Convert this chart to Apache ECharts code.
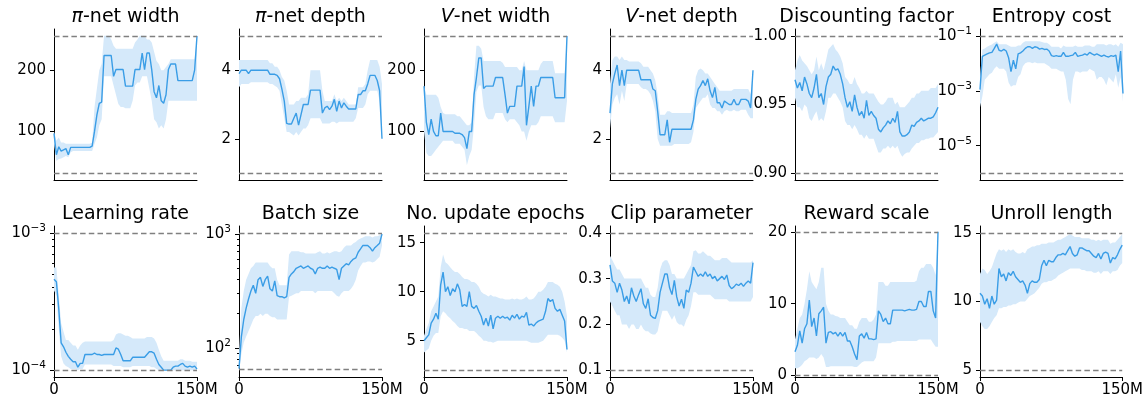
<!DOCTYPE html>
<html>
<head>
<meta charset="utf-8">
<script src="https://cdn.jsdelivr.net/npm/echarts@6/dist/echarts.min.js"></script>
<style>
  html, body { margin: 0; padding: 0; background: #fff; }
  #main { width: 1146px; height: 398px; }
</style>
</head>
<body>
<div id="main"></div>
<script>
// training steps, in millions
var steps = [0,2.5,5,7.5,10,12.5,15,17.5,20,22.5,25,27.5,30,32.5,35,37.5,40,42.5,45,47.5,
  50,52.5,55,57.5,60,62.5,65,67.5,70,72.5,75,77.5,80,82.5,85,87.5,90,92.5,95,97.5,
  100,102.5,105,107.5,110,112.5,115,117.5,120,122.5,125,127.5,130,132.5,135,137.5,140,142.5,145,147.5,150];
var xTicks = ['0', '150'];
var xTickLabels = ['0', '150M'];

// pi-net width
var piWidthBounds = [32, 256];
var piWidthTicks = [100, 200];
var piWidthMid = [97,62,75,68,70,72,62,74,74,74,
  74,74,74,74,74,74,76,100,127,146,
  148,224,224,224,224,190,201,201,201,201,
  174,174,174,174,201,201,201,228,201,228,
  228,201,165,155,175,150,146,160,201,210,
  210,210,183,183,183,183,183,183,183,200,
  256];
var piWidthLo = [80,52,55,56,58,60,58,66,68,68,
  68,68,68,68,68,68,68,80,90,110,
  120,190,190,190,190,175,160,145,140,140,
  138,138,138,150,175,180,180,190,190,190,
  170,150,120,115,105,110,105,120,150,150,
  150,150,150,150,150,150,150,150,150,150,
  150];
var piWidthHi = [100,85,90,82,82,80,80,80,80,80,
  80,80,80,80,80,80,82,140,170,200,
  210,256,256,256,250,240,235,235,235,235,
  235,235,235,235,245,250,256,256,256,250,
  250,245,230,215,210,200,200,205,210,218,
  218,218,218,218,218,218,218,218,218,218,
  256];

// pi-net depth
var piDepthBounds = [1, 5];
var piDepthTicks = [2, 4];
var piDepthMid = [3.9,4.0,4.0,4.0,3.9,4.0,4.0,4.0,4.0,4.0,
  4.0,4.0,4.0,3.88,3.88,3.88,3.85,3.75,3.45,3.1,
  2.45,2.43,2.43,2.6,2.75,2.4,2.7,3.0,3.0,3.0,
  3.42,3.42,3.42,3.42,3.42,2.75,2.9,2.95,2.85,2.95,
  3.15,2.8,3.1,2.9,3.05,2.95,2.87,2.87,2.87,2.87,
  3.29,3.29,3.4,3.4,3.6,3.85,3.85,3.85,3.7,3.4,
  2.0];
var piDepthLo = [3.5,3.6,3.6,3.6,3.6,3.65,3.65,3.65,3.65,3.65,
  3.65,3.65,3.65,3.6,3.6,3.55,3.5,3.4,3.0,2.6,
  2.2,2.2,2.15,2.1,2.2,2.1,2.2,2.3,2.3,2.4,
  2.6,2.6,2.6,2.6,2.6,2.45,2.45,2.45,2.45,2.5,
  2.5,2.45,2.5,2.5,2.5,2.5,2.5,2.5,2.5,2.6,
  2.9,2.9,2.9,3.0,3.3,3.4,3.4,3.4,3.4,3.1,
  2.0];
var piDepthHi = [4.3,4.3,4.3,4.3,4.3,4.3,4.3,4.3,4.3,4.3,
  4.3,4.3,4.3,4.2,4.2,4.1,4.1,4.0,3.8,3.7,
  3.4,3.0,3.0,3.0,3.1,3.1,3.2,3.2,3.2,3.3,
  4.0,4.0,4.0,4.0,4.0,3.4,3.1,3.1,3.1,3.1,
  3.3,3.1,3.2,3.1,3.2,3.1,3.0,3.0,3.0,3.0,
  3.5,3.5,3.5,3.6,4.0,4.3,4.3,4.3,4.3,4.1,
  3.6];

// V-net width
var vWidthBounds = [32, 256];
var vWidthTicks = [100, 200];
var vWidthMid = [174,115,95,120,100,93,93,130,100,100,
  100,100,100,97,97,97,95,90,72,100,
  100,160,188,220,220,170,174,174,174,174,
  188,188,188,188,160,130,141,141,141,174,
  174,174,206,110,141,174,141,174,174,188,
  188,188,188,188,188,155,155,155,155,155,
  256];
var vWidthLo = [100,65,60,60,65,70,75,80,85,85,
  85,85,85,80,80,80,75,70,45,60,
  70,110,165,175,175,140,125,120,120,120,
  130,130,130,130,120,115,120,120,120,115,
  110,100,100,85,100,110,110,110,115,125,
  125,125,125,125,125,115,115,115,115,115,
  150];
var vWidthHi = [175,160,160,160,160,160,155,140,130,128,
  128,128,128,128,125,125,120,115,110,110,
  115,190,240,240,235,215,215,215,215,215,
  215,215,215,212,205,205,205,205,205,205,
  200,200,215,200,200,200,200,200,200,210,
  215,215,215,215,215,195,195,195,195,195,
  256];

// V-net depth
var vDepthBounds = [1, 5];
var vDepthTicks = [2, 4];
var vDepthMid = [2.75,3.6,3.9,4.15,3.55,4.0,3.55,4.0,4.0,4.0,
  4.0,4.0,4.0,3.72,3.72,3.72,3.72,3.72,3.45,3.4,
  2.8,2.12,2.12,2.12,2.55,1.9,2.28,2.28,2.28,2.28,
  2.28,2.28,2.28,2.28,2.28,2.55,3.15,3.45,3.55,3.7,
  3.55,3.75,3.4,3.2,3.5,3.05,3.05,2.9,3.1,3.05,
  3.0,3.0,3.15,3.0,3.0,3.15,3.15,3.15,3.1,2.9,
  4.0];
var vDepthLo = [2.3,3.0,3.2,3.3,3.0,3.4,3.1,3.6,3.6,3.6,
  3.6,3.6,3.6,3.5,3.45,3.45,3.4,3.3,3.1,2.8,
  2.0,1.8,1.8,1.8,1.8,1.8,1.8,1.85,1.85,1.85,
  1.85,1.85,1.85,1.85,1.9,2.2,2.9,3.0,3.1,3.2,
  3.2,3.3,3.0,2.9,2.9,2.8,2.8,2.7,2.8,2.85,
  2.8,2.8,2.85,2.8,2.8,2.85,2.85,2.85,2.7,2.6,
  2.6];
var vDepthHi = [3.6,4.3,4.4,4.4,4.3,4.4,4.3,4.3,4.25,4.25,
  4.25,4.25,4.25,4.2,4.1,4.1,4.1,4.0,3.9,3.7,
  3.3,2.7,2.7,2.7,2.8,2.8,2.75,2.75,2.75,2.75,
  2.75,2.75,2.75,2.75,2.75,3.0,3.8,4.0,4.05,4.0,
  3.9,3.9,3.8,3.7,3.6,3.5,3.4,3.4,3.4,3.4,
  3.4,3.4,3.45,3.45,3.45,3.45,3.45,3.45,3.45,3.3,
  4.0];

// discounting factor
var discountBounds = [0.9, 1.0];
var discountTicks = [0.90, 0.95, 1.00];
var discountMid = [0.968,0.962,0.966,0.96,0.97,0.965,0.958,0.955,0.962,0.972,
  0.955,0.958,0.95,0.963,0.97,0.972,0.978,0.975,0.976,0.972,
  0.965,0.955,0.948,0.952,0.945,0.957,0.948,0.942,0.945,0.94,
  0.953,0.942,0.945,0.942,0.94,0.932,0.93,0.933,0.935,0.938,
  0.936,0.94,0.937,0.945,0.93,0.927,0.927,0.928,0.93,0.935,
  0.934,0.937,0.938,0.94,0.938,0.939,0.94,0.94,0.941,0.944,
  0.948];
var discountLo = [0.955,0.948,0.948,0.945,0.95,0.948,0.94,0.938,0.942,0.945,
  0.938,0.94,0.938,0.945,0.955,0.955,0.958,0.958,0.955,0.952,
  0.948,0.938,0.935,0.935,0.932,0.935,0.932,0.928,0.928,0.925,
  0.928,0.925,0.925,0.925,0.92,0.915,0.915,0.918,0.918,0.92,
  0.918,0.92,0.918,0.92,0.915,0.912,0.914,0.915,0.915,0.918,
  0.92,0.922,0.922,0.924,0.924,0.925,0.925,0.926,0.926,0.928,
  0.93];
var discountHi = [0.975,0.982,0.986,0.982,0.98,0.978,0.975,0.972,0.975,0.985,
  0.975,0.98,0.975,0.982,0.99,0.992,0.994,0.99,0.988,0.985,
  0.98,0.97,0.968,0.965,0.965,0.97,0.965,0.962,0.958,0.958,
  0.96,0.958,0.958,0.958,0.955,0.952,0.95,0.95,0.952,0.955,
  0.955,0.955,0.95,0.952,0.948,0.948,0.948,0.95,0.952,0.955,
  0.955,0.958,0.958,0.96,0.96,0.96,0.96,0.962,0.962,0.962,
  0.965];

// entropy cost (log axis)
var entropyBounds = [1e-6, 1e-1];
var entropyTicks = [1e-5, 1e-3, 1e-1];
var entropyMid = [1.1e-3,1.8e-2,2.0e-2,2.2e-2,2.4e-2,2.5e-2,3.5e-2,5.0e-2,3.0e-2,2.8e-2,
  3.2e-2,2.8e-2,1.6e-2,5.0e-3,1.3e-2,6.3e-3,2.2e-2,2.4e-2,2.8e-2,3.5e-2,
  4.0e-2,4.0e-2,3.5e-2,4.0e-2,3.8e-2,3.3e-2,3.5e-2,3.2e-2,3.3e-2,2.8e-2,
  1.9e-2,1.8e-2,1.9e-2,1.8e-2,1.8e-2,2.5e-2,1.8e-2,1.8e-2,1.9e-2,2.0e-2,
  2.5e-2,1.8e-2,1.9e-2,2.0e-2,2.2e-2,2.0e-2,2.5e-2,2.2e-2,2.0e-2,2.2e-2,
  2.0e-2,1.8e-2,2.0e-2,1.8e-2,1.7e-2,1.9e-2,1.8e-2,2.0e-2,5.0e-3,2.8e-2,
  8.0e-4];
var entropyLo = [2.5e-4,6.3e-4,2.5e-3,3.2e-3,4.0e-3,4.5e-3,6.3e-3,7.9e-3,6.3e-3,6.3e-3,
  6.3e-3,5.0e-3,2.0e-3,1.4e-3,1.6e-3,1.6e-3,3.2e-3,4.0e-3,7.9e-3,1.0e-2,
  1.1e-2,1.1e-2,1.0e-2,1.1e-2,1.0e-2,1.0e-2,1.0e-2,1.0e-2,8.9e-3,7.9e-3,
  6.3e-3,6.3e-3,6.3e-3,5.6e-3,5.0e-3,5.0e-3,2.5e-3,5.0e-4,3.2e-4,2.5e-3,
  5.0e-3,5.0e-3,4.5e-3,5.0e-3,5.0e-3,5.0e-3,6.3e-3,5.6e-3,5.0e-3,2.5e-3,
  3.2e-3,3.2e-3,2.5e-3,1.6e-3,3.2e-3,2.5e-3,2.0e-3,4.0e-3,1.3e-3,3.2e-3,
  4.0e-4];
var entropyHi = [3.2e-3,3.2e-2,3.5e-2,4.0e-2,4.5e-2,4.8e-2,5.6e-2,6.3e-2,5.0e-2,5.0e-2,
  5.0e-2,5.0e-2,4.5e-2,4.0e-2,4.0e-2,4.0e-2,4.5e-2,4.5e-2,5.6e-2,6.3e-2,
  6.3e-2,6.3e-2,6.3e-2,6.3e-2,6.3e-2,6.3e-2,6.0e-2,5.6e-2,5.6e-2,5.0e-2,
  4.0e-2,4.0e-2,4.0e-2,4.0e-2,3.5e-2,4.5e-2,4.0e-2,4.0e-2,4.0e-2,4.0e-2,
  4.5e-2,4.0e-2,4.0e-2,4.0e-2,4.5e-2,4.5e-2,4.5e-2,4.0e-2,4.0e-2,5.0e-2,
  5.0e-2,5.0e-2,5.0e-2,4.5e-2,5.0e-2,5.0e-2,4.5e-2,5.0e-2,4.0e-2,5.6e-2,
  5.0e-2];

// learning rate (log axis)
var lrBounds = [1e-4, 1e-3];
var lrTicks = [1e-4, 1e-3];
var lrMinorTicks = [2e-4, 3e-4, 4e-4, 5e-4, 6e-4, 7e-4, 8e-4, 9e-4];
var lrMid = [4.6e-4,4.4e-4,2.8e-4,1.58e-4,1.48e-4,1.35e-4,1.26e-4,1.2e-4,1.15e-4,1.15e-4,
  1.05e-4,1.12e-4,1.12e-4,1.3e-4,1.3e-4,1.3e-4,1.3e-4,1.33e-4,1.3e-4,1.3e-4,
  1.28e-4,1.3e-4,1.3e-4,1.3e-4,1.3e-4,1.3e-4,1.45e-4,1.42e-4,1.3e-4,1.17e-4,
  1.17e-4,1.17e-4,1.17e-4,1.24e-4,1.24e-4,1.24e-4,1.24e-4,1.24e-4,1.24e-4,1.3e-4,
  1.36e-4,1.36e-4,1.33e-4,1.2e-4,1.1e-4,1.05e-4,1.0e-4,1.0e-4,1.0e-4,1.0e-4,
  1.05e-4,1.07e-4,1.07e-4,1.1e-4,1.12e-4,1.07e-4,1.05e-4,1.07e-4,1.05e-4,1.07e-4,
  1.02e-4];
var lrLo = [3.8e-4,3.5e-4,2.0e-4,1.26e-4,1.12e-4,1.07e-4,1.05e-4,1.02e-4,1.02e-4,1.02e-4,
  1.0e-4,1.02e-4,1.02e-4,1.1e-4,1.1e-4,1.1e-4,1.1e-4,1.1e-4,1.1e-4,1.1e-4,
  1.1e-4,1.1e-4,1.1e-4,1.1e-4,1.1e-4,1.07e-4,1.07e-4,1.07e-4,1.07e-4,1.05e-4,
  1.05e-4,1.05e-4,1.05e-4,1.07e-4,1.07e-4,1.07e-4,1.07e-4,1.07e-4,1.07e-4,1.07e-4,
  1.07e-4,1.05e-4,1.05e-4,1.02e-4,1.0e-4,1.0e-4,1.0e-4,1.0e-4,1.0e-4,1.0e-4,
  1.0e-4,1.0e-4,1.0e-4,1.0e-4,1.0e-4,1.0e-4,1.0e-4,1.0e-4,1.0e-4,1.0e-4,
  1.0e-4];
var lrHi = [5.6e-4,5.6e-4,3.5e-4,2.2e-4,1.9e-4,1.66e-4,1.66e-4,1.58e-4,1.51e-4,1.51e-4,
  1.41e-4,1.51e-4,1.58e-4,1.62e-4,1.62e-4,1.62e-4,1.62e-4,1.62e-4,1.62e-4,1.62e-4,
  1.62e-4,1.62e-4,1.62e-4,1.62e-4,1.62e-4,1.66e-4,1.82e-4,1.86e-4,1.86e-4,1.82e-4,
  1.78e-4,1.78e-4,1.74e-4,1.7e-4,1.7e-4,1.7e-4,1.7e-4,1.7e-4,1.7e-4,1.74e-4,
  1.74e-4,1.74e-4,1.7e-4,1.58e-4,1.41e-4,1.26e-4,1.17e-4,1.17e-4,1.17e-4,1.17e-4,
  1.17e-4,1.17e-4,1.17e-4,1.2e-4,1.2e-4,1.17e-4,1.17e-4,1.17e-4,1.15e-4,1.15e-4,
  1.15e-4];

// batch size (log axis)
var batchBounds = [64, 1024];
var batchTicks = [100, 1000];
var batchMinorTicks = [70, 80, 90, 200, 300, 400, 500, 600, 700, 800, 900];
var batchMid = [66,126,178,224,269,316,355,302,398,417,
  347,398,427,331,316,389,288,282,282,275,
  282,417,447,468,501,513,525,501,513,525,
  501,490,447,501,513,501,501,525,501,513,
  501,490,398,501,525,550,537,575,603,617,
  692,741,794,794,794,759,708,759,794,832,
  1000];
var batchLo = [63,89,112,126,141,158,178,191,191,200,
  191,200,200,191,186,186,178,178,178,178,
  178,282,288,295,302,302,316,316,316,316,
  316,316,302,316,316,316,316,316,316,316,
  302,288,282,302,316,316,316,331,355,398,
  479,525,562,562,575,575,562,575,603,631,
  794];
var batchHi = [89,224,316,398,447,501,525,562,562,562,
  562,562,562,525,501,501,398,355,355,355,
  355,661,708,708,708,708,692,692,676,676,
  676,676,676,692,708,676,676,692,676,692,
  708,708,692,708,759,794,794,794,832,851,
  891,912,933,955,955,955,933,955,955,977,
  1023];

// no. update epochs
var epochsBounds = [2, 16];
var epochsTicks = [5, 10, 15];
var epochsMid = [5.0,5.3,5.6,6.8,7.2,7.8,7.2,10.7,12.0,10.0,
  10.5,9.6,10.3,10.0,10.8,10.2,8.5,8.7,8.5,10.0,
  8.5,8.3,8.6,8.0,7.5,6.6,7.3,6.5,7.6,6.2,
  7.3,7.5,7.3,7.5,7.3,7.4,7.1,7.6,7.3,7.7,
  7.2,7.5,7.4,7.9,6.6,6.7,6.5,6.8,7.0,7.1,
  7.2,8.0,9.3,9.0,9.2,8.3,8.0,8.2,7.6,7.0,
  4.1];
var epochsLo = [3.8,4.0,4.2,5.0,5.5,5.8,5.8,7.5,8.0,7.8,
  7.5,7.3,7.0,6.8,6.5,6.3,6.3,6.2,6.2,6.0,
  6.0,6.0,5.8,5.5,5.3,5.0,5.0,4.9,4.9,4.8,
  4.9,5.0,5.0,5.0,5.0,5.0,5.0,5.0,5.0,5.0,
  5.0,5.0,5.0,5.0,4.9,4.8,4.8,4.8,4.8,4.9,
  5.0,5.3,5.6,5.6,5.6,5.6,5.6,5.5,5.3,5.0,
  3.8];
var epochsHi = [5.5,6.2,6.8,8.0,8.5,9.0,9.5,12.5,13.8,13.0,
  12.8,12.5,12.2,12.0,12.0,11.8,11.5,11.3,11.3,11.2,
  11.0,11.0,10.8,10.5,10.0,9.8,9.7,9.5,9.7,9.5,
  9.5,9.4,9.3,9.3,9.2,9.2,9.2,9.3,9.2,9.3,
  9.2,9.2,9.3,9.5,9.2,9.2,9.3,9.6,10.0,10.0,
  10.2,10.5,11.0,11.0,11.0,10.8,10.7,10.5,10.0,9.0,
  7.5];

// clip parameter
var clipBounds = [0.1, 0.4];
var clipTicks = [0.1, 0.2, 0.3, 0.4];
var clipMid = [0.33,0.295,0.29,0.27,0.29,0.275,0.25,0.262,0.245,0.28,
  0.262,0.25,0.265,0.278,0.245,0.235,0.256,0.22,0.215,0.213,
  0.23,0.27,0.29,0.31,0.31,0.28,0.265,0.296,0.26,0.24,
  0.255,0.235,0.275,0.27,0.29,0.325,0.315,0.305,0.31,0.305,
  0.315,0.305,0.31,0.3,0.305,0.295,0.3,0.305,0.298,0.308,
  0.285,0.278,0.282,0.288,0.285,0.29,0.283,0.29,0.295,0.29,
  0.335];
var clipLo = [0.25,0.24,0.23,0.22,0.22,0.2,0.2,0.2,0.19,0.2,
  0.2,0.19,0.19,0.2,0.19,0.185,0.185,0.18,0.178,0.178,
  0.185,0.21,0.23,0.23,0.23,0.22,0.21,0.22,0.205,0.2,
  0.2,0.195,0.21,0.22,0.24,0.27,0.27,0.265,0.265,0.265,
  0.265,0.265,0.265,0.26,0.255,0.255,0.255,0.255,0.255,0.255,
  0.25,0.25,0.25,0.25,0.25,0.25,0.25,0.25,0.25,0.25,
  0.26];
var clipHi = [0.35,0.34,0.33,0.32,0.32,0.31,0.3,0.3,0.3,0.3,
  0.3,0.3,0.3,0.3,0.29,0.28,0.28,0.265,0.26,0.26,
  0.28,0.32,0.335,0.34,0.34,0.33,0.31,0.31,0.3,0.3,
  0.3,0.3,0.31,0.32,0.33,0.36,0.362,0.355,0.355,0.36,
  0.355,0.35,0.35,0.345,0.34,0.34,0.34,0.345,0.345,0.345,
  0.34,0.335,0.335,0.335,0.335,0.335,0.335,0.335,0.335,0.335,
  0.34];

// reward scale
var rewardBounds = [0.05, 20];
var rewardTicks = [0, 10, 20];
var rewardMid = [3.3,4.2,6.2,4.5,6.5,7.2,10.5,6.8,8.0,5.5,
  8.6,9.0,9.5,4.5,6.0,6.1,5.8,6.0,5.5,6.0,
  5.5,6.0,4.8,4.8,4.0,3.0,2.2,5.5,5.8,5.2,
  6.0,5.1,5.1,5.0,5.1,9.0,8.5,7.5,8.0,7.2,
  7.2,9.1,9.1,9.1,9.1,9.1,9.0,9.1,9.2,9.1,
  9.1,9.2,10.3,10.3,9.6,9.6,11.7,11.7,9.0,8.0,
  20.0];
var rewardLo = [1.0,1.0,1.2,1.5,2.0,2.2,2.5,2.5,2.5,2.3,
  2.5,3.0,2.5,1.2,1.2,1.3,1.3,1.3,1.3,1.3,
  1.3,1.3,1.3,1.3,1.3,1.2,1.2,1.5,1.8,2.0,
  2.0,2.0,2.0,2.0,2.5,4.5,4.5,4.5,4.5,4.5,
  4.5,4.7,4.7,4.8,4.8,4.8,4.8,4.8,4.8,4.8,
  4.8,4.8,5.0,5.0,5.0,5.0,5.0,5.0,4.5,4.0,
  4.0];
var rewardHi = [5.0,6.5,8.0,8.5,10.0,12.0,14.5,13.0,12.5,12.0,
  13.0,15.0,15.0,10.0,9.0,8.5,8.5,8.3,8.2,8.0,
  8.0,8.0,7.5,7.0,7.0,6.5,6.5,7.5,8.0,8.0,
  8.0,7.5,7.5,7.8,8.5,13.0,13.0,13.0,12.5,12.5,
  13.0,13.0,13.0,13.0,13.0,13.0,13.0,13.0,13.0,13.0,
  13.0,13.2,14.5,15.0,15.0,15.5,15.5,15.5,15.0,14.0,
  20.0];

// unroll length
var unrollBounds = [5, 15];
var unrollTicks = [5, 10, 15];
var unrollMid = [10.6,10.4,9.8,10.2,9.5,10.4,9.8,10.1,12.4,11.8,
  12.0,11.5,12.1,11.9,12.2,11.8,11.6,11.4,11.5,11.2,
  10.6,11.3,11.5,11.4,11.4,11.6,12.6,13.0,12.6,13.0,
  12.9,12.9,13.2,13.4,13.4,13.5,13.4,13.7,14.0,13.5,
  13.3,13.4,13.9,13.9,13.8,13.7,13.7,13.5,13.3,13.2,
  13.5,13.1,13.5,13.6,13.5,12.8,13.2,13.1,13.4,13.8,
  14.1];
var unrollLo = [8.5,8.2,8.0,8.0,8.2,8.5,8.8,9.0,9.5,9.5,
  9.6,9.6,9.7,9.7,9.8,9.8,9.9,10.0,10.0,10.0,
  10.2,10.4,10.5,10.6,10.8,11.0,11.3,11.4,11.4,11.5,
  11.5,11.6,11.7,11.9,12.0,12.1,12.2,12.3,12.4,12.4,
  12.4,12.4,12.4,12.3,12.3,12.2,12.2,12.2,12.1,12.1,
  12.2,12.0,12.2,12.2,12.2,12.0,12.2,12.2,12.3,12.6,
  12.8];
var unrollHi = [12.0,12.4,12.3,12.0,12.2,12.5,13.0,13.5,13.8,13.7,
  13.8,13.6,13.8,13.7,13.8,13.6,13.5,13.5,13.6,13.5,
  13.8,13.9,14.0,14.0,14.1,14.1,14.2,14.2,14.2,14.3,
  14.3,14.3,14.4,14.5,14.5,14.6,14.7,14.8,14.9,14.8,
  14.7,14.7,14.7,14.6,14.6,14.6,14.6,14.5,14.5,14.4,
  14.5,14.4,14.5,14.5,14.5,14.2,14.3,14.3,14.5,14.7,
  14.9];

function intLabel(v) { return String(v); }
function fix2(v) { return v.toFixed(2); }
function fix1(v) { return v.toFixed(1); }

var panels = [
  { title: '{i|π}-net width', mid: piWidthMid, lo: piWidthLo, hi: piWidthHi, bounds: piWidthBounds, ticks: piWidthTicks, fmt: intLabel },
  { title: '{i|π}-net depth', mid: piDepthMid, lo: piDepthLo, hi: piDepthHi, bounds: piDepthBounds, ticks: piDepthTicks, fmt: intLabel },
  { title: '{i|V}-net width', mid: vWidthMid, lo: vWidthLo, hi: vWidthHi, bounds: vWidthBounds, ticks: vWidthTicks, fmt: intLabel },
  { title: '{i|V}-net depth', mid: vDepthMid, lo: vDepthLo, hi: vDepthHi, bounds: vDepthBounds, ticks: vDepthTicks, fmt: intLabel },
  { title: 'Discounting factor', mid: discountMid, lo: discountLo, hi: discountHi, bounds: discountBounds, ticks: discountTicks, fmt: fix2 },
  { title: 'Entropy cost', mid: entropyMid, lo: entropyLo, hi: entropyHi, bounds: entropyBounds, ticks: entropyTicks, log: true },
  { title: 'Learning rate', mid: lrMid, lo: lrLo, hi: lrHi, bounds: lrBounds, ticks: lrTicks, minor: lrMinorTicks, log: true },
  { title: 'Batch size', mid: batchMid, lo: batchLo, hi: batchHi, bounds: batchBounds, ticks: batchTicks, minor: batchMinorTicks, log: true },
  { title: 'No. update epochs', mid: epochsMid, lo: epochsLo, hi: epochsHi, bounds: epochsBounds, ticks: epochsTicks, fmt: intLabel },
  { title: 'Clip parameter', mid: clipMid, lo: clipLo, hi: clipHi, bounds: clipBounds, ticks: clipTicks, fmt: fix1 },
  { title: 'Reward scale', mid: rewardMid, lo: rewardLo, hi: rewardHi, bounds: rewardBounds, ticks: rewardTicks, fmt: intLabel, range: [-0.2, 20.8] },
  { title: 'Unroll length', mid: unrollMid, lo: unrollLo, hi: unrollHi, bounds: unrollBounds, ticks: unrollTicks, fmt: intLabel }
];

var lefts = [54, 239, 424, 610, 795, 980];
var tops = [29, 226];
var W = 143, H = 151;
var lineColor = '#3a9de6';
var bandColor = '#d5e9fa';
var font = 'DejaVu Sans';

var grids = [], xAxes = [], yAxes = [], series = [], graphics = [];

function ident(v) { return v; }
function supLabel(v) {
  var e = Math.round(v);
  return '{b|10}{s|' + (e < 0 ? '\u2212' : '') + Math.abs(e) + '}';
}
function isXTick(idx, val) { return xTicks.indexOf(String(val)) >= 0; }

panels.forEach(function (p, i) {
  var row = Math.floor(i / 6), col = i % 6;
  var tr = p.log ? Math.log10 : ident;
  var b0 = tr(p.bounds[0]), b1 = tr(p.bounds[1]);
  var pad = 0.05 * (b1 - b0);
  var ymin = p.range ? p.range[0] : b0 - pad;
  var ymax = p.range ? p.range[1] : b1 + pad;

  grids.push({ left: lefts[col], top: tops[row], width: W, height: H });

  xAxes.push({
    type: 'category', gridIndex: i, data: steps, boundaryGap: false,
    axisLine: { onZero: false, lineStyle: { color: '#000', width: 1 } },
    axisTick: { show: row === 1, length: 4, lineStyle: { color: '#000' }, interval: isXTick },
    axisLabel: {
      show: row === 1, margin: 6, fontSize: 15, fontFamily: font, color: '#000',
      interval: isXTick,
      formatter: function (val) { return xTickLabels[xTicks.indexOf(String(val))]; }
    },
    splitLine: { show: false }
  });

  var tickVals = p.ticks.map(tr);
  yAxes.push({
    type: 'value', gridIndex: i, min: ymin, max: ymax, position: 'left',
    axisLine: { show: true, lineStyle: { color: '#000', width: 1 } },
    axisTick: { show: true, length: 4, customValues: tickVals, lineStyle: { color: '#000' } },
    axisLabel: {
      customValues: tickVals, margin: 8, fontSize: 15, fontFamily: font, color: '#000',
      formatter: p.log ? supLabel : p.fmt,
      rich: {
        b: { fontSize: 15, fontFamily: font, color: '#000', lineHeight: 15 },
        s: { fontSize: 10.5, fontFamily: font, color: '#000', lineHeight: 11, padding: [0, 0, 9, 0] }
      }
    },
    splitLine: { show: false }
  });

  var loT = p.lo.map(tr), hiT = p.hi.map(tr), midT = p.mid.map(tr);
  series.push({
    type: 'line', xAxisIndex: i, yAxisIndex: i, data: loT, stack: 'band' + i, stackStrategy: 'all',
    symbol: 'none', lineStyle: { opacity: 0 }, silent: true, z: 1
  });
  series.push({
    type: 'line', xAxisIndex: i, yAxisIndex: i,
    data: hiT.map(function (h, k) { return h - loT[k]; }),
    stack: 'band' + i, stackStrategy: 'all',
    symbol: 'none', lineStyle: { opacity: 0 }, areaStyle: { color: bandColor, opacity: 1 }, silent: true, z: 1
  });
  series.push({
    type: 'line', xAxisIndex: i, yAxisIndex: i, data: midT, symbol: 'none', z: 3,
    lineStyle: { color: lineColor, width: 1.4 },
    markLine: {
      silent: true, symbol: ['none', 'none'], label: { show: false }, animation: false,
      lineStyle: { color: '#808080', type: [5.5, 3.2], width: 1.4 },
      data: [{ yAxis: b0 }, { yAxis: b1 }]
    }
  });

  graphics.push({
    type: 'text', x: lefts[col] + W / 2, y: tops[row] - 12,
    style: {
      text: p.title, align: 'center', verticalAlign: 'middle',
      font: '19px "DejaVu Sans"', fill: '#000',
      rich: { i: { fontStyle: 'italic', fontSize: 19, fontFamily: font, fill: '#000' } }
    }
  });
});

// minor ticks for the log axes
panels.forEach(function (p, i) {
  if (!p.minor) return;
  var b0 = Math.log10(p.bounds[0]), b1 = Math.log10(p.bounds[1]);
  var pad = 0.05 * (b1 - b0);
  yAxes.push({
    type: 'value', gridIndex: i, min: b0 - pad, max: b1 + pad, position: 'left',
    axisLine: { show: false },
    axisTick: { show: true, length: 2, customValues: p.minor.map(Math.log10), lineStyle: { color: '#000' } },
    axisLabel: { show: false },
    splitLine: { show: false }
  });
});

var chart = echarts.init(document.getElementById('main'), null, { renderer: 'canvas' });
chart.setOption({
  animation: false,
  backgroundColor: '#fff',
  grid: grids,
  xAxis: xAxes,
  yAxis: yAxes,
  series: series,
  graphic: graphics
});
</script>
</body>
</html>
